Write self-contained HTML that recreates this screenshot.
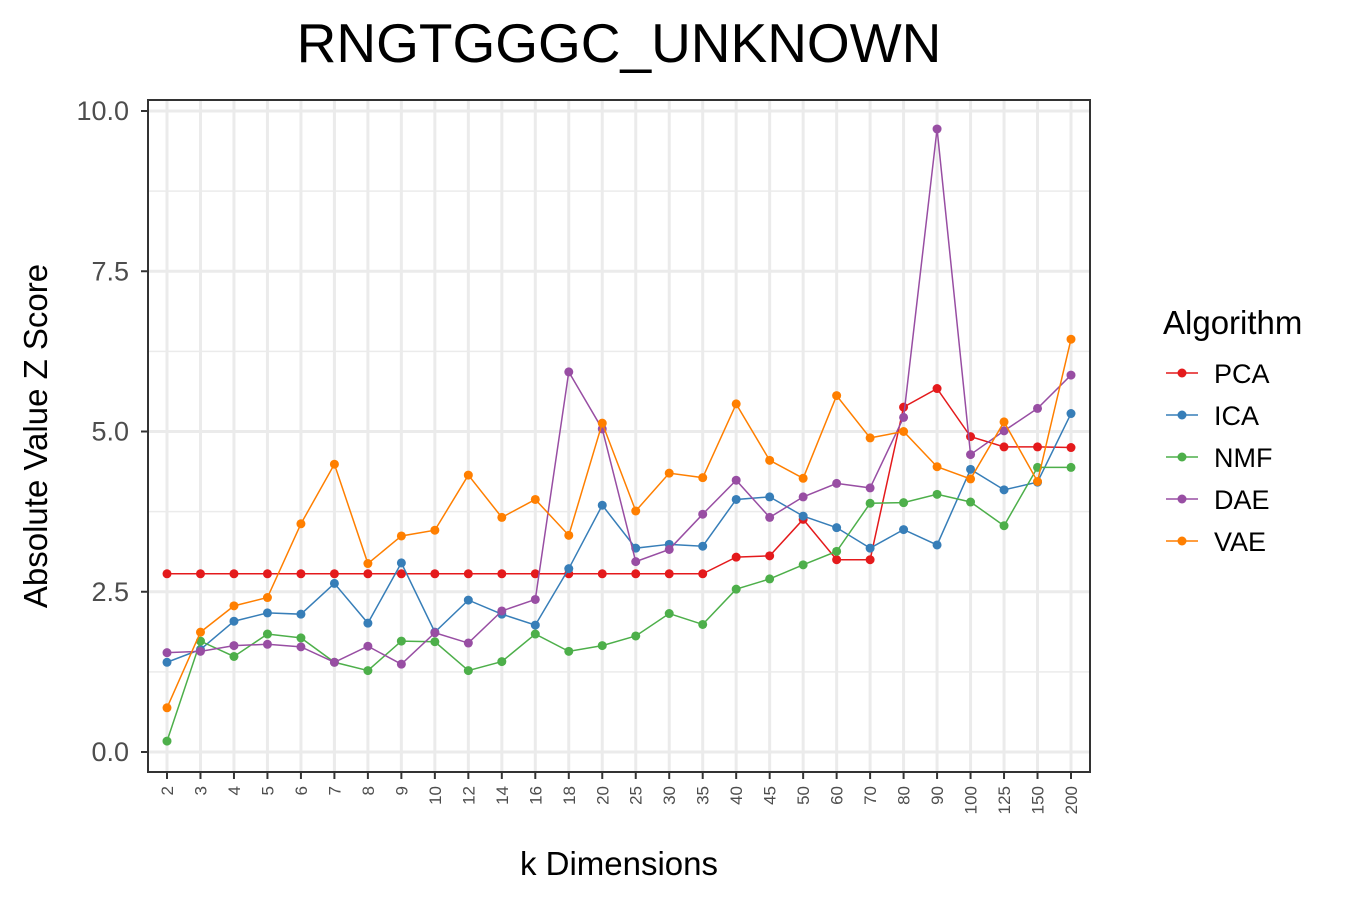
<!DOCTYPE html>
<html><head><meta charset="utf-8"><style>
body{margin:0;background:#fff;}
svg{font-family:"Liberation Sans",Arial,sans-serif;}
</style></head><body>
<svg id="chart" width="1350" height="900">
<text x="619" y="62" font-size="55" text-anchor="middle" fill="#000">RNGTGGGC_UNKNOWN</text>
<g id="grid"></g><g id="series"></g><g id="axes"></g>
<rect x="148" y="100" width="942" height="672" fill="none" stroke="#333" stroke-width="2"/>
<text transform="translate(47,436) rotate(-90)" font-size="33" text-anchor="middle" fill="#000">Absolute Value Z Score</text>
<text x="619" y="875" font-size="33" text-anchor="middle" fill="#000">k Dimensions</text>
<g id="legend">
<text x="1163" y="334" font-size="33" fill="#000">Algorithm</text>
</g>
</svg>
<script>
const categories=["2","3","4","5","6","7","8","9","10","12","14","16","18","20","25","30","35","40","45","50","60","70","80","90","100","125","150","200"];
const seriesNames=["PCA","ICA","NMF","DAE","VAE"];
const colors=["#E41A1C","#377EB8","#4DAF4A","#984EA3","#FF7F00"];
const pca=[2.78,2.78,2.78,2.78,2.78,2.78,2.78,2.78,2.78,2.78,2.78,2.78,2.78,2.78,2.78,2.78,2.78,3.04,3.06,3.63,3.0,3.0,5.38,5.67,4.92,4.76,4.76,4.75];
const ica=[1.40,1.60,2.04,2.17,2.15,2.63,2.01,2.95,1.87,2.37,2.15,1.98,2.86,3.85,3.18,3.24,3.21,3.94,3.98,3.68,3.50,3.18,3.47,3.23,4.41,4.09,4.21,5.28];
const nmf=[0.17,1.73,1.49,1.84,1.78,1.40,1.27,1.73,1.72,1.27,1.41,1.84,1.57,1.66,1.81,2.16,1.99,2.54,2.70,2.92,3.13,3.88,3.89,4.02,3.90,3.53,4.44,4.44];
const dae=[1.55,1.57,1.66,1.68,1.64,1.40,1.65,1.37,1.86,1.70,2.20,2.38,5.93,5.04,2.97,3.16,3.71,4.24,3.66,3.98,4.19,4.12,5.22,9.72,4.64,5.01,5.36,5.88];
const vae=[0.69,1.87,2.28,2.41,3.56,4.49,2.94,3.37,3.46,4.32,3.66,3.94,3.38,5.13,3.76,4.35,4.28,5.43,4.55,4.27,5.56,4.90,5.00,4.45,4.26,5.15,4.22,6.44];
const yTicks=[0,2.5,5,7.5,10];
const yTickLabels=["0.0","2.5","5.0","7.5","10.0"];
const allSeries=[pca,ica,nmf,dae,vae];
const NS="http://www.w3.org/2000/svg";
function xs(i){return 167+i*(1071-167)/(categories.length-1);}
function ys(v){return 752-v*64.1;}
function mk(tag,attrs,parent){const e=document.createElementNS(NS,tag);for(const k in attrs)e.setAttribute(k,attrs[k]);parent.appendChild(e);return e;}
const grid=document.getElementById('grid'),axes=document.getElementById('axes'),ser=document.getElementById('series'),leg=document.getElementById('legend');
for(let i=0;i<yTicks.length-1;i++){const y=ys((yTicks[i]+yTicks[i+1])/2);
 const l=mk('line',{x1:148,x2:1090,y1:y,y2:y,stroke:'#EBEBEB','stroke-width':1.5},grid);
 
 }
yTicks.forEach((t,i)=>{const y=ys(t);
 const l=mk('line',{x1:148,x2:1090,y1:y,y2:y,stroke:'#EBEBEB','stroke-width':3},grid);
 
 
 const tk=mk('line',{x1:141,x2:148,y1:y,y2:y,stroke:'#333','stroke-width':2},axes);
 
 
 const tx=mk('text',{x:129,y:y+9,'font-size':27,'text-anchor':'end',fill:'#4D4D4D'},axes);
 tx.textContent=yTickLabels[i];
 
 });
categories.forEach((c,i)=>{const x=xs(i);
 const l=mk('line',{x1:x,x2:x,y1:100,y2:772,stroke:'#EBEBEB','stroke-width':3},grid);
 
 
 const tk=mk('line',{x1:x,x2:x,y1:772,y2:779,stroke:'#333','stroke-width':2},axes);
 
 
 const tx=mk('text',{transform:`translate(${x+6},786) rotate(-90)`,'font-size':17,'text-anchor':'end',fill:'#4D4D4D'},axes);
 tx.textContent=c;
 
 });
allSeries.forEach((s,si)=>{
 const p=mk('polyline',{points:s.map((v,i)=>xs(i)+','+ys(v)).join(' '),fill:'none',stroke:colors[si],'stroke-width':1.5},ser);
 
 
 s.forEach((v,i)=>{const c=mk('circle',{cx:xs(i),cy:ys(v),r:4.5,fill:colors[si]},ser);
  
  });
 const y=373+si*42;
 const ll=mk('line',{x1:1166,x2:1198,y1:y,y2:y,stroke:colors[si],'stroke-width':1.5},leg);
 
 
 mk('circle',{cx:1182,cy:y,r:4.5,fill:colors[si]},leg);
 const t=mk('text',{x:1214,y:y+10,'font-size':27,fill:'#000'},leg);
 t.textContent=seriesNames[si];
 
 
});
</script>
</body></html>
